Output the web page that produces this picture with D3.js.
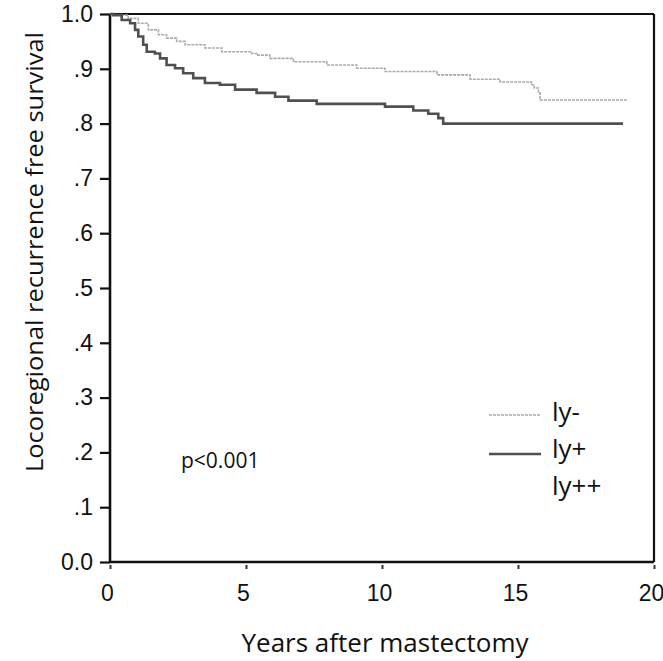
<!DOCTYPE html>
<html>
<head>
<meta charset="utf-8">
<script src="https://cdn.jsdelivr.net/npm/d3@7"></script>
<style>
  html, body { margin: 0; padding: 0; background: #fff; }
  svg { display: block; }
  .tick-label { font-family: 'Liberation Sans', Arial, sans-serif; font-size: 23px; fill: #111; }
  .title { font-family: 'Open Sans', 'Noto Sans', sans-serif; fill: #111; }
</style>
</head>
<body>
<div id="chart"></div>
<script>
// Kaplan-Meier steps (years, survival)
const lyNegTimes = [0, 0.11, 0.67, 1.04, 1.41, 1.78, 2.08, 2.45, 2.76, 3.49, 4.11, 5.21, 5.39, 5.88, 6.74, 7.97, 9.07, 10.11, 12.02, 13.24, 14.34, 15.5, 15.6, 15.75, 15.81, 19.0]
const lyNegSurv = [1, 0.998, 0.992, 0.983, 0.971, 0.962, 0.956, 0.950, 0.944, 0.938, 0.931, 0.928, 0.925, 0.919, 0.913, 0.907, 0.901, 0.895, 0.889, 0.881, 0.876, 0.871, 0.865, 0.856, 0.843, 0.843]

const lyPosTimes = [0, 0.12, 0.43, 0.74, 0.92, 1.04, 1.22, 1.35, 1.65, 1.84, 2.08, 2.39, 2.69, 3.06, 3.49, 4.04, 4.60, 5.39, 6.07, 6.56, 7.6, 10.11, 11.15, 11.7, 12.07, 12.25, 18.86]
const lyPosSurv = [1, 0.998, 0.989, 0.983, 0.971, 0.959, 0.944, 0.931, 0.928, 0.919, 0.907, 0.901, 0.892, 0.883, 0.874, 0.871, 0.862, 0.856, 0.849, 0.842, 0.836, 0.831, 0.824, 0.818, 0.810, 0.800, 0.800]

const xTicks = [0, 5, 10, 15, 20]
const yTicks = [0, 0.1, 0.2, 0.3, 0.4, 0.5, 0.6, 0.7, 0.8, 0.9, 1.0]
const yTickLabels = ['0.0', '.1', '.2', '.3', '.4', '.5', '.6', '.7', '.8', '.9', '1.0']
const legendLabels = ['ly-', 'ly+', 'ly++']

const width = 663
const height = 661

const svg = d3.select('#chart')
  .append('svg')
  .attr('width', width)
  .attr('height', height)

// Scales
const xScale = d3.scaleLinear().domain([0, 20]).range([110, 654])
const yScale = d3.scaleLinear().domain([0, 1]).range([562, 14])

// Y axis
const yAxis = svg.append('g')
  .attr('transform', `translate(${xScale(0)},0)`)
  .call(d3.axisLeft(yScale)
    .tickValues(yTicks)
    .tickSize(10)
    .tickPadding(7)
    .tickFormat((d, i) => yTickLabels[i]))
yAxis.select('.domain').remove()
yAxis.selectAll('.tick line').attr('stroke', '#111').attr('stroke-width', 2.2)
yAxis.selectAll('.tick text').attr('class', 'tick-label').attr('font-size', null).attr('font-family', null)

// X axis
const xAxis = svg.append('g')
  .attr('transform', `translate(0,${yScale(0) + 3})`)
  .call(d3.axisBottom(xScale)
    .tickValues(xTicks)
    .tickSize(4)
    .tickPadding(16))
xAxis.select('.domain').remove()
xAxis.selectAll('.tick line').attr('stroke', '#333').attr('stroke-width', 2)
xAxis.selectAll('.tick text').attr('class', 'tick-label').attr('font-size', null).attr('font-family', null)
  .attr('dx', -3)

// Frame
const frame = svg.append('g').attr('fill', 'none').attr('stroke', '#111')
frame.append('line')
  .attr('x1', xScale(0)).attr('x2', xScale(0))
  .attr('y1', yScale(1)).attr('y2', yScale(0))
  .attr('stroke-width', 2.6)
frame.append('line')
  .attr('x1', xScale(0)).attr('x2', xScale(20))
  .attr('y1', yScale(0)).attr('y2', yScale(0))
  .attr('stroke-width', 2.6)
frame.append('line')
  .attr('x1', xScale(0)).attr('x2', xScale(20))
  .attr('y1', yScale(1)).attr('y2', yScale(1))
  .attr('stroke-width', 2.2)
frame.append('line')
  .attr('x1', xScale(20)).attr('x2', xScale(20))
  .attr('y1', yScale(1)).attr('y2', yScale(0))
  .attr('stroke-width', 2.2)

// Step lines
const stepLine = d3.line()
  .x(d => xScale(d[0]))
  .y(d => yScale(d[1]))
  .curve(d3.curveStepAfter)

svg.append('path')
  .datum(d3.zip(lyNegTimes, lyNegSurv))
  .attr('fill', 'none')
  .attr('stroke', '#ababab')
  .attr('stroke-width', 1.6)
  .attr('stroke-dasharray', '3,1')
  .attr('d', stepLine)

svg.append('path')
  .datum(d3.zip(lyPosTimes, lyPosSurv))
  .attr('fill', 'none')
  .attr('stroke', '#505050')
  .attr('stroke-width', 2.6)
  .attr('d', stepLine)

// Legend
const legendY = [421, 458, 495]
const legend = svg.append('g')
legend.append('line')
  .attr('x1', 489).attr('x2', 540).attr('y1', 415).attr('y2', 415)
  .attr('stroke', '#ababab').attr('stroke-width', 1.6).attr('stroke-dasharray', '3,1')
legend.append('line')
  .attr('x1', 489).attr('x2', 541).attr('y1', 454).attr('y2', 454)
  .attr('stroke', '#505050').attr('stroke-width', 2.6)
legend.selectAll('text')
  .data(legendLabels)
  .join('text')
  .attr('class', 'title')
  .attr('x', 552)
  .attr('y', (d, i) => legendY[i])
  .attr('font-size', 26)
  .text(d => d)

// p value
svg.append('text')
  .attr('class', 'title')
  .attr('x', 181)
  .attr('y', 468)
  .attr('font-size', 21)
  .text('p<0.001')

// Axis titles
svg.append('text')
  .attr('class', 'title')
  .attr('transform', 'translate(43,252) rotate(-90)')
  .attr('text-anchor', 'middle')
  .attr('font-size', 24)
  .attr('textLength', 440)
  .attr('lengthAdjust', 'spacingAndGlyphs')
  .text('Locoregional recurrence free survival')

svg.append('text')
  .attr('class', 'title')
  .attr('x', 385)
  .attr('y', 652)
  .attr('text-anchor', 'middle')
  .attr('font-size', 25)
  .attr('textLength', 287)
  .attr('lengthAdjust', 'spacingAndGlyphs')
  .text('Years after mastectomy')
</script>
</body>
</html>
